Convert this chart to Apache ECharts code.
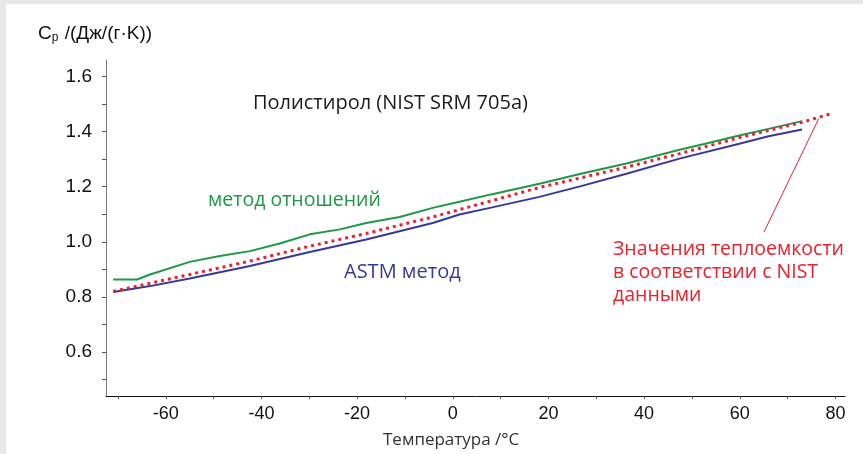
<!DOCTYPE html>
<html>
<head>
<meta charset="utf-8">
<script src="https://cdn.jsdelivr.net/npm/echarts@6/dist/echarts.min.js"></script>
<style>
  html, body { margin: 0; padding: 0; }
  #frame { position: relative; width: 863px; height: 454px; background: #e8e8e8; overflow: hidden; }
  #chart { position: absolute; left: 6px; top: 4px; width: 857px; height: 450px; background: #fff; }
</style>
</head>
<body>
<div id="frame"><div id="chart"></div></div>
<script>
// temperature, °C / Cp, J/(g·K)
const ratioT = [-71, -66, -63.3, -55, -48.7, -42.4, -36.2, -29.9, -23.6, -18.1, -11.1, -4.2, 1.4, 8, 18.1, 27, 36.3, 47.4, 53, 59.9, 66, 73]
const ratioCp = [0.863, 0.863, 0.881, 0.927, 0.948, 0.966, 0.994, 1.027, 1.045, 1.068, 1.09, 1.123, 1.145, 1.172, 1.211, 1.248, 1.284, 1.334, 1.357, 1.386, 1.41, 1.438]

const astmT = [-71, -63.3, -55, -42.4, -29.9, -18.1, -4.2, 1.4, 8, 18.1, 27, 36.3, 47.4, 59.9, 66, 73]
const astmCp = [0.818, 0.839, 0.867, 0.912, 0.963, 1.008, 1.068, 1.099, 1.124, 1.163, 1.203, 1.247, 1.302, 1.356, 1.383, 1.408]

const nistT = [-71, -55, -42.4, -29.9, -18.1, -4.2, 0, 18.1, 36.3, 47.4, 59.9, 73, 79.1]
const nistCp = [0.82, 0.881, 0.93, 0.984, 1.03, 1.09, 1.11, 1.197, 1.271, 1.32, 1.378, 1.434, 1.465]

// pointer from the red note to the NIST curve
const pointerFrom = [65.05, 1.035]
const pointerTo = [76.5, 1.447]

const xLabels = [-60, -40, -20, 0, 20, 40, 60, 80]
const xTicks = [-70, -60, -50, -40, -30, -20, -10, 0, 10, 20, 30, 40, 50, 60, 70, 80]
const yLabels = [0.6, 0.8, 1.0, 1.2, 1.4, 1.6]
const yTicks = [0.5, 0.6, 0.7, 0.8, 0.9, 1.0, 1.1, 1.2, 1.3, 1.4, 1.5, 1.6]

const pairs = (xs, ys) => xs.map((x, i) => [x, ys[i]])

const GREEN = '#1e9847'
const BLUE = '#38389a'
const RED = '#e8212d'
const noteFont = '"Open Sans", "Noto Sans", sans-serif'
const axisFont = '"Liberation Sans", Arial, sans-serif'

const chart = echarts.init(document.getElementById('chart'))
chart.setOption({
  animation: false,
  grid: { left: 100, top: 56, right: 18, bottom: 58 },
  xAxis: {
    type: 'value',
    min: -72.5,
    max: 82,
    axisLine: { onZero: false, lineStyle: { color: '#111', width: 1 } },
    axisTick: { customValues: xTicks, length: 3, lineStyle: { color: '#555' } },
    axisLabel: {
      customValues: xLabels,
      margin: 9,
      fontFamily: axisFont,
      fontSize: 18,
      color: '#111'
    },
    splitLine: { show: false }
  },
  yAxis: {
    type: 'value',
    min: 0.44,
    max: 1.66,
    axisLine: { show: true, onZero: false, lineStyle: { color: '#777', width: 1 } },
    axisTick: { show: true, customValues: yTicks, length: 4, lineStyle: { color: '#555' } },
    axisLabel: {
      customValues: yLabels,
      margin: 14,
      fontFamily: axisFont,
      fontSize: 19,
      color: '#111',
      formatter: v => v.toFixed(1)
    },
    splitLine: { show: false }
  },
  series: [
    {
      name: 'метод отношений',
      type: 'line',
      data: pairs(ratioT, ratioCp),
      showSymbol: false,
      lineStyle: { color: GREEN, width: 2 },
      z: 2
    },
    {
      name: 'ASTM метод',
      type: 'line',
      data: pairs(astmT, astmCp),
      showSymbol: false,
      lineStyle: { color: BLUE, width: 2 },
      z: 2
    },
    {
      name: 'NIST',
      type: 'line',
      data: pairs(nistT, nistCp),
      showSymbol: false,
      lineStyle: { color: RED, width: 3, type: [3, 4] },
      z: 3,
      markLine: {
        silent: true,
        symbol: 'none',
        label: { show: false },
        lineStyle: { color: RED, width: 1, type: 'solid' },
        data: [[{ coord: pointerFrom }, { coord: pointerTo }]]
      }
    }
  ],
  graphic: [
    {
      type: 'text', left: 32, top: 20,
      style: {
        text: '{c|C}{p|p}{c| /(Дж/(г·K))}',
        rich: {
          c: { fontFamily: axisFont, fontSize: 19, fill: '#111' },
          p: { fontFamily: axisFont, fontSize: 12, fill: '#111', verticalAlign: 'bottom', padding: [8, 1, 0, 0] }
        }
      }
    },
    {
      type: 'text', left: 247, top: 89,
      style: { text: 'Полистирол (NIST SRM 705a)', font: '20px ' + noteFont, fill: '#1a1a1a' }
    },
    {
      type: 'text', left: 202, top: 186,
      style: { text: 'метод отношений', font: '19.5px ' + noteFont, fill: GREEN }
    },
    {
      type: 'text', left: 338, top: 258,
      style: { text: 'ASTM метод', font: '20px ' + noteFont, fill: BLUE }
    },
    {
      type: 'text', left: 607, top: 234,
      style: {
        text: 'Значения теплоемкости\nв соответствии с NIST\nданными',
        font: '19.5px ' + noteFont,
        lineHeight: 23,
        fill: RED
      }
    },
    {
      type: 'text', left: 377, top: 428,
      style: { text: 'Температура /°C', font: '17px ' + noteFont, fill: '#333' }
    }
  ]
})
</script>
</body>
</html>
